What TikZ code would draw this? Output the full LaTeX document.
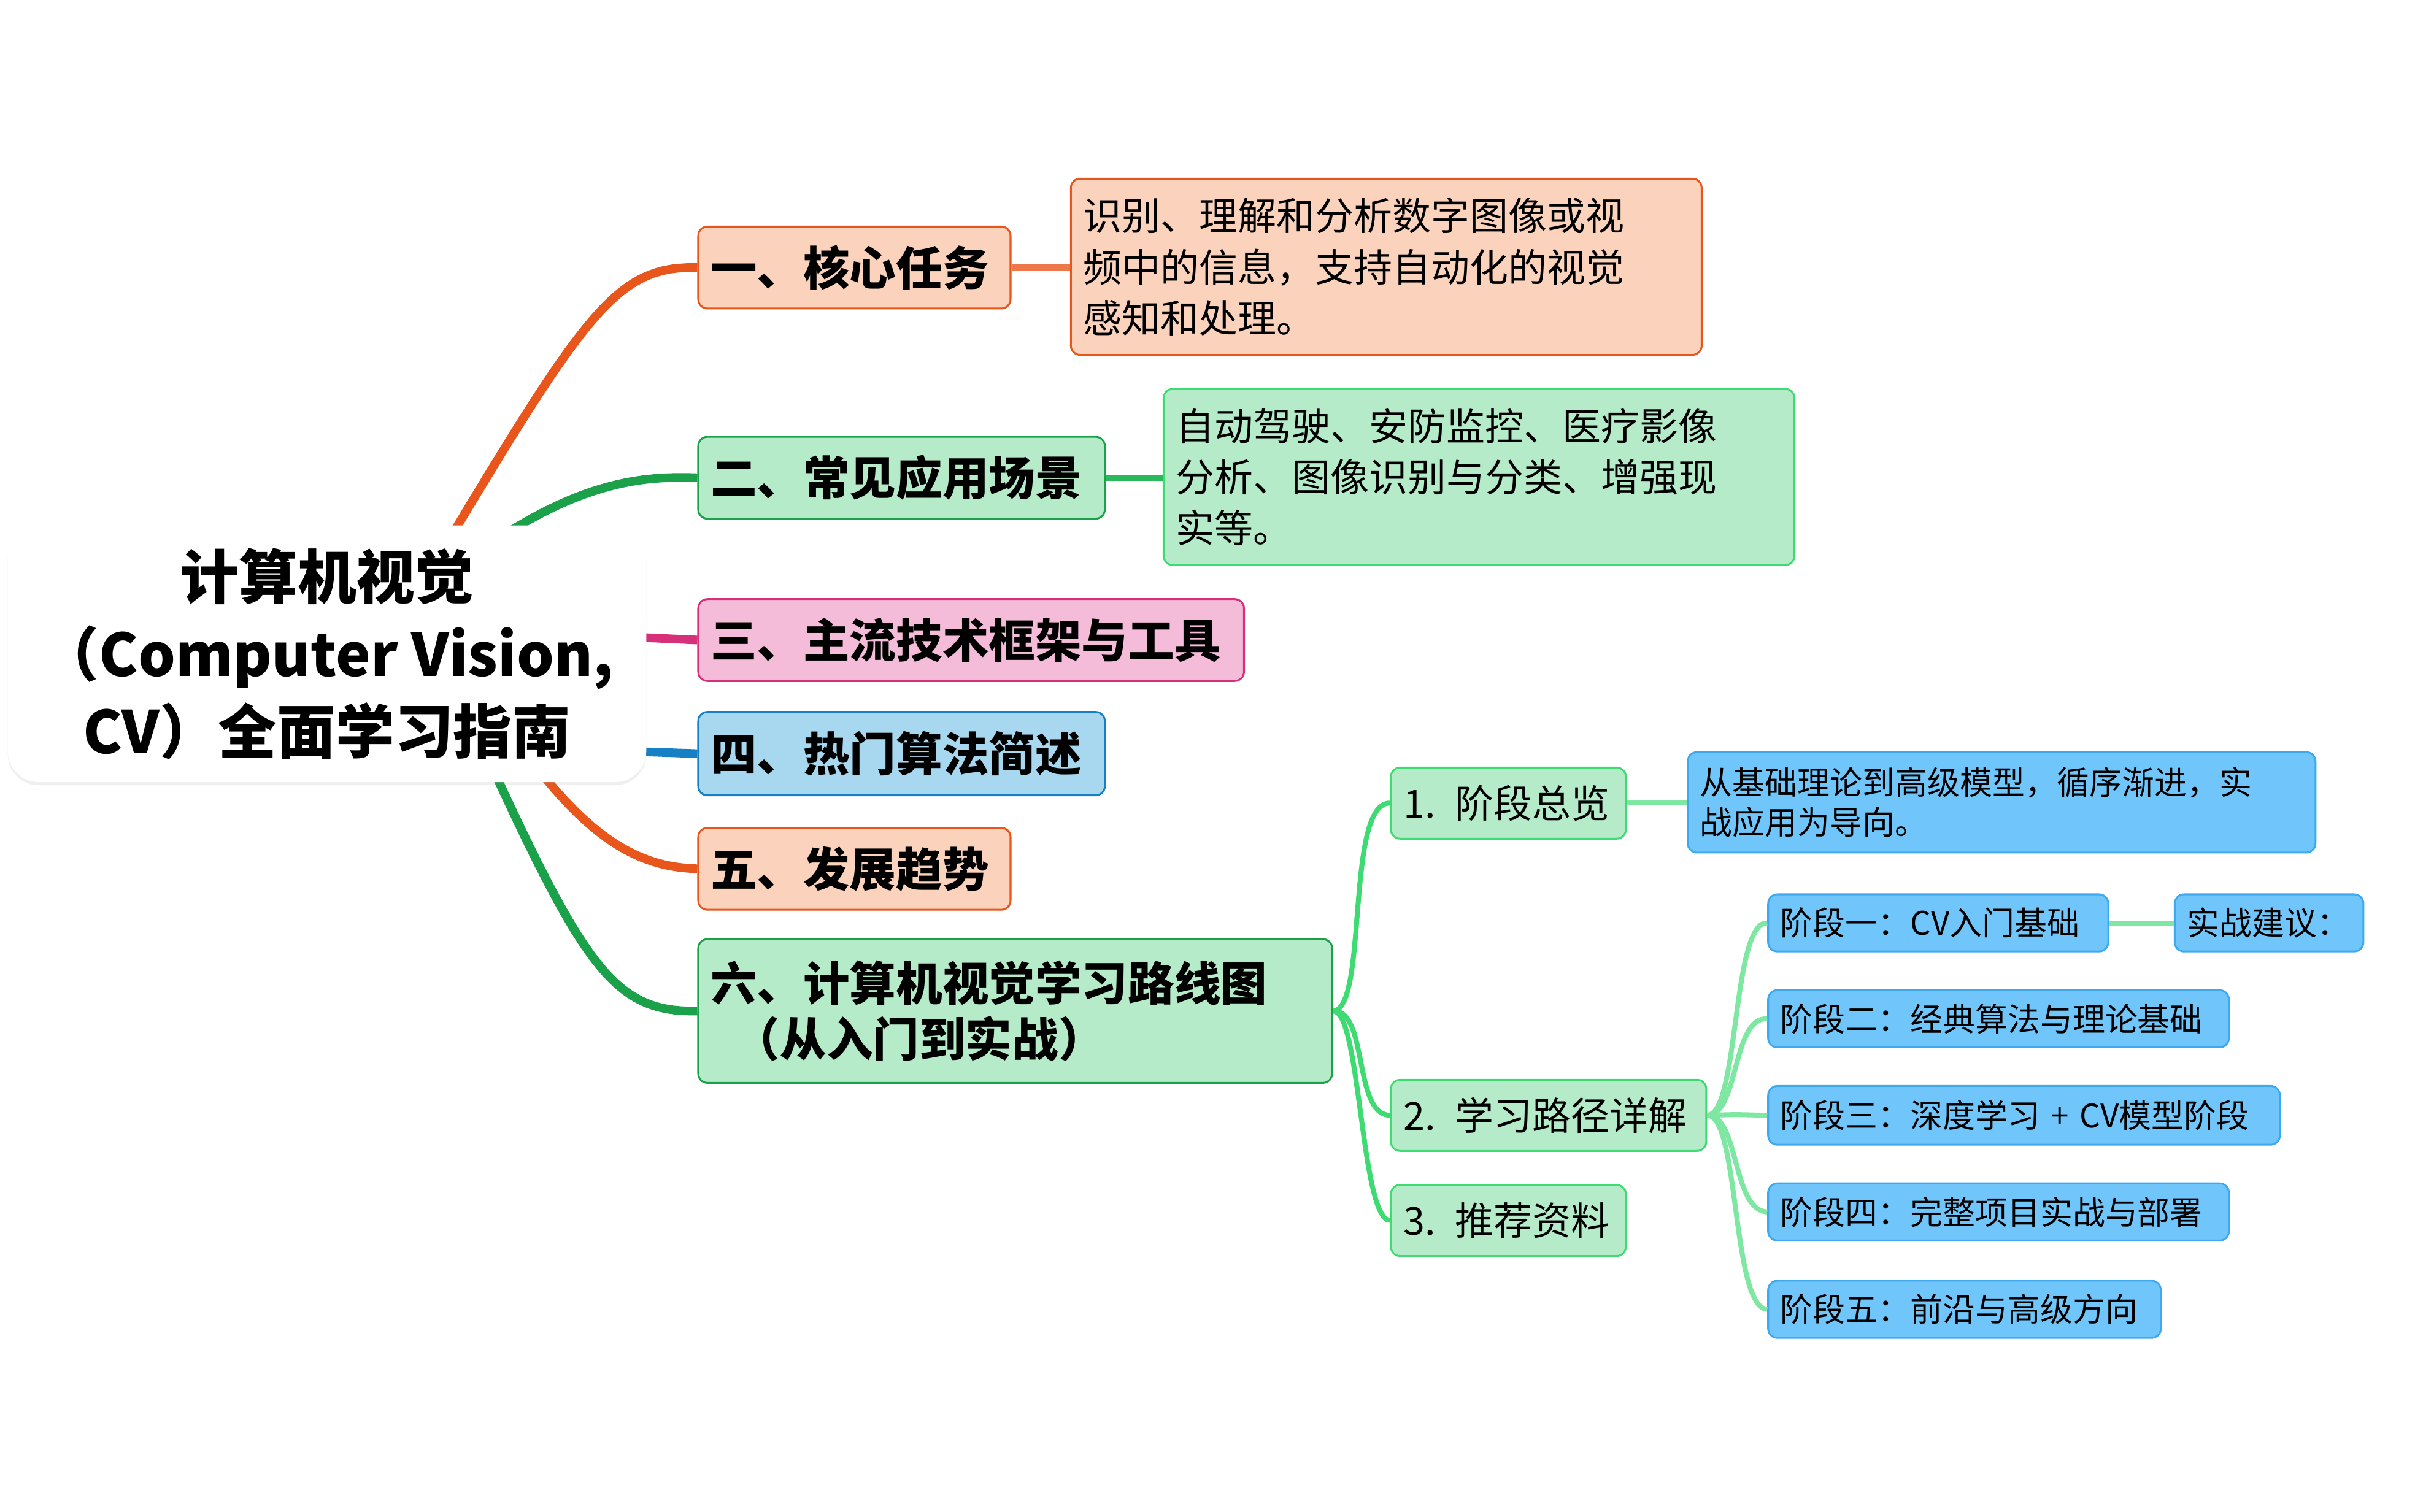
\documentclass[tikz,border=0pt]{standalone}
\usepackage{fontspec}
\setmainfont{Noto Sans CJK SC}
\usetikzlibrary{shadows}
\definecolor{orF}{HTML}{FBD3BC}\definecolor{orD}{HTML}{E8561C}
\definecolor{grF}{HTML}{B5EBC9}\definecolor{grD}{HTML}{1BA14A}
\definecolor{pkF}{HTML}{F4BCD8}\definecolor{pkD}{HTML}{D6307B}
\definecolor{blF}{HTML}{A8D8F0}\definecolor{blD}{HTML}{1780C4}
\definecolor{lgL}{HTML}{3DDB72}\definecolor{lbF}{HTML}{70C6FA}\definecolor{lbD}{HTML}{3FA9F0}
\definecolor{lg2}{HTML}{7EE8A3}
\newcommand{\bx}[7]{\node[#6,anchor=north west,minimum width={(#4-#2)*0.5pt},minimum height={(#5-#3)*0.5pt},text width={(#4-#2)*0.5pt-8pt},align=left,inner sep=4pt] (#1) at (#2,#3) {#7};}
\begin{document}
\begin{tikzpicture}[x=0.5pt,y=-0.5pt,
 box/.style={draw,rounded corners=3pt,line width=0.6pt},
 L1/.style={box,font=\fontsize{15}{18}\selectfont\bfseries},
 D/.style={box,font=\fontsize{12.5}{16.5}\selectfont},
 C/.style={box,fill=grF,draw=lgL,font=\fontsize{12.5}{15}\selectfont},
 S/.style={box,fill=lbF,draw=lbD,font=\fontsize{10.5}{13}\selectfont},
 ln/.style={line width=2.8pt},
 ln2/.style={line width=1.6pt}]
\useasboundingbox (0,0) rectangle (1562,978);
\fill[white] (0,0) rectangle (1562,978);
% level1 nodes
\bx{a}{451}{146}{653}{199}{L1,fill=orF,draw=orD}{一、核心任务}
\bx{b}{451}{282}{714}{335}{L1,fill=grF,draw=grD}{二、常见应用场景}
\bx{c}{451}{387}{804}{440}{L1,fill=pkF,draw=pkD}{三、主流技术框架与工具}
\bx{d}{451}{460}{714}{514}{L1,fill=blF,draw=blD}{四、热门算法简述}
\bx{e}{451}{535}{653}{588}{L1,fill=orF,draw=orD}{五、发展趋势}
\bx{f}{451}{607}{861}{700}{L1,fill=grF,draw=grD}{六、计算机视觉学习路线图\\\hspace*{0.5em}（从入门到实战）}
\bx{da}{692}{115}{1100}{229}{D,fill=orF,draw=orD}{识别、理解和分析数字图像或视\\频中的信息，支持自动化的视觉\\感知和处理。}
\bx{db}{752}{251}{1160}{365}{D,fill=grF,draw=lgL}{自动驾驶、安防监控、医疗影像\\分析、图像识别与分类、增强现\\实等。}
\bx{f1}{899}{496}{1051}{542}{C}{1. 阶段总览}
\bx{f2}{899}{698}{1103}{744}{C}{2. 学习路径详解}
\bx{f3}{899}{766}{1051}{812}{C}{3. 推荐资料}
\bx{g}{1091}{486}{1497}{551}{S}{从基础理论到高级模型，循序渐进，实\\战应用为导向。}
\bx{s1}{1143}{578}{1363}{615}{S}{阶段一：CV入门基础}
\bx{t}{1406}{578}{1528}{615}{S}{实战建议：}
\bx{s2}{1143}{640}{1441}{677}{S}{阶段二：经典算法与理论基础}
\bx{s3}{1143}{702}{1474}{740}{S}{阶段三：深度学习 + CV模型阶段}
\bx{s4}{1143}{765}{1441}{802}{S}{阶段四：完整项目实战与部署}
\bx{s5}{1143}{828}{1397}{865}{S}{阶段五：前沿与高级方向}
% connectors from root (behind root)
\draw[ln,orD] (290,350) .. controls (380,200) and (400,172) .. (a.west);
\draw[ln,grD] (320,350) .. controls (380,310) and (420,308) .. (b.west);
\draw[ln,pkD] (405,412) -- (c.west);
\draw[ln,blD] (405,486) -- (d.west);
\draw[ln,orD] (350,500) .. controls (390,550) and (420,561) .. (e.west);
\draw[ln,grD] (320,500) .. controls (380,630) and (400,655) .. (f.west);
% root
\node[fill=white,rounded corners=10pt,drop shadow={opacity=0.12,shadow xshift=0pt,shadow yshift=-1pt},minimum width=206.5pt,minimum height=83pt,align=center,font=\fontsize{19}{25}\selectfont\bfseries] (r) at (211.5,423) {计算机视觉\\（Computer Vision,\\CV）全面学习指南};
% other connectors
\draw[ln,orD!80!white,line width=2pt] (a.east) -- (da.west|-a.east);
\draw[ln,grD!60!lgL,line width=2pt] (b.east) -- (db.west|-b.east);
\draw[ln2,lgL] (f.east) .. controls (885,653) and (870,519) .. (f1.west);
\draw[ln2,lgL] (f.east) .. controls (885,653) and (875,721) .. (f2.west);
\draw[ln2,lgL] (f.east) .. controls (880,653) and (880,789) .. (f3.west);
\draw[ln2,lg2] (f1.east) -- (g.west|-f1.east);
\foreach \n/\yy in {s1/596,s2/658,s3/721,s4/783,s5/846}{\draw[ln2,lg2] (f2.east) .. controls (1125,721) and (1120,\yy) .. (\n.west);}
\draw[ln2,lg2] (s1.east) -- (t.west);
\end{tikzpicture}
\end{document}
